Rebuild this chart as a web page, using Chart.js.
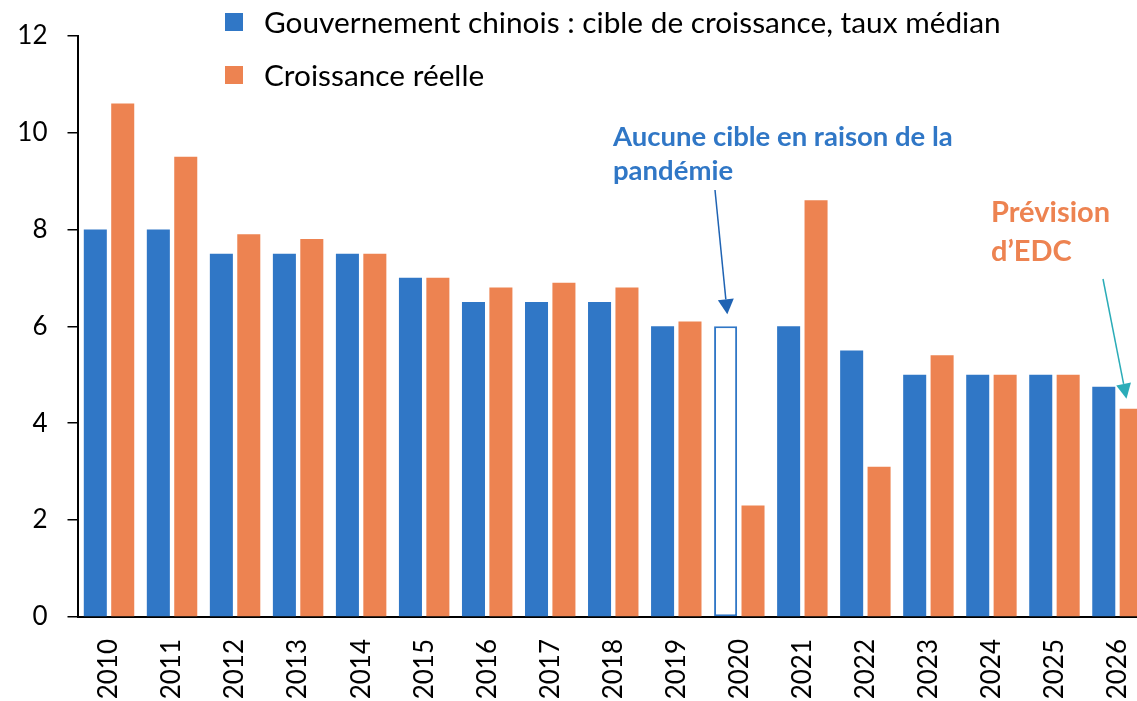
<!DOCTYPE html>
<html lang="fr">
<head>
<meta charset="utf-8">
<title>Chine : cible de croissance et croissance réelle</title>
<script src="https://cdn.jsdelivr.net/npm/chart.js@4/dist/chart.umd.min.js"></script>
<style>
    html, body { margin: 0; padding: 0; background: #fff; overflow: hidden; }
    #growthChart { display: block; }
</style>
</head>
<body>
<!-- the source plot runs a little past the right edge of the picture -->
<canvas id="growthChart" width="1149" height="701"></canvas>
<script>
// Data
const years = ['2010', '2011', '2012', '2013', '2014', '2015', '2016', '2017', '2018',
               '2019', '2020', '2021', '2022', '2023', '2024', '2025', '2026'];
const targetGrowth = [8, 8, 7.5, 7.5, 7.5, 7, 6.5, 6.5, 6.5, 6, 6, 6, 5.5, 5, 5, 5, 4.75];
const actualGrowth = [10.6, 9.5, 7.9, 7.8, 7.5, 7.0, 6.8, 6.9, 6.8, 6.1, 2.3, 8.6, 3.1, 5.4, 5.0, 5.0, 4.3];
const yTicks = [0, 2, 4, 6, 8, 10, 12];
const seriesNames = ['Gouvernement chinois : cible de croissance, taux médian', 'Croissance réelle'];
const noTargetYear = '2020';

const BLUE = '#3077C6';
const ORANGE = '#ED8351';
const FONT = 'Lato, "Open Sans", sans-serif';

window.addEventListener('DOMContentLoaded', () => {
    const noTargetIdx = years.indexOf(noTargetYear);

    // legend drawn by hand at the top, inside the plot
    const legendPlugin = {
        id: 'topLegend',
        afterDraw(chart) {
            const ctx = chart.ctx;
            const colors = [BLUE, ORANGE];
            ctx.save();
            ctx.font = '29.8px ' + FONT;
            ctx.textBaseline = 'middle';
            ctx.textAlign = 'left';
            seriesNames.forEach((name, i) => {
                const cy = 22 + i * 53;
                ctx.fillStyle = colors[i];
                ctx.fillRect(225, cy - 9, 18, 18);
                ctx.fillStyle = '#000';
                ctx.fillText(name, 264, cy + 1);
            });
            ctx.restore();
        }
    };

    function arrow(ctx, x1, y1, x2, y2, color, head, width) {
        const ang = Math.atan2(y2 - y1, x2 - x1);
        ctx.save();
        ctx.strokeStyle = color;
        ctx.fillStyle = color;
        ctx.lineWidth = 1.5;
        ctx.beginPath();
        ctx.moveTo(x1, y1);
        ctx.lineTo(x2 - Math.cos(ang) * head, y2 - Math.sin(ang) * head);
        ctx.stroke();
        ctx.beginPath();
        ctx.moveTo(x2, y2);
        ctx.lineTo(x2 - Math.cos(ang) * head + Math.sin(ang) * width / 2,
                   y2 - Math.sin(ang) * head - Math.cos(ang) * width / 2);
        ctx.lineTo(x2 - Math.cos(ang) * head - Math.sin(ang) * width / 2,
                   y2 - Math.sin(ang) * head + Math.cos(ang) * width / 2);
        ctx.closePath();
        ctx.fill();
        ctx.restore();
    }

    const notesPlugin = {
        id: 'notes',
        afterDatasetsDraw(chart) {
            const ctx = chart.ctx;
            const x = chart.scales.x, y = chart.scales.y;
            ctx.save();
            ctx.textBaseline = 'middle';
            ctx.textAlign = 'left';

            // no target in 2020
            const bx = x.getPixelForValue(noTargetIdx) - 12;
            ctx.font = 'bold 27.5px ' + FONT;
            ctx.fillStyle = '#3077C6';
            ctx.fillText('Aucune cible en raison de la', 613, 137);
            ctx.fillText('pandémie', 613, 171);
            arrow(ctx, 715, 190, bx, y.getPixelForValue(targetGrowth[noTargetIdx]) - 12, '#1F63B3', 15, 16);

            // forecast 2026
            const last = years.length - 1;
            const ox = x.getPixelForValue(last) + 11;
            ctx.font = 'bold 29px ' + FONT;
            ctx.fillStyle = '#ED8351';
            ctx.fillText('Prévision', 991, 213);
            ctx.fillText('d\u2019EDC', 991, 252);
            arrow(ctx, 1103, 279, ox - 2, y.getPixelForValue(actualGrowth[last]) - 10, '#2BACB8', 15, 15);
            ctx.restore();
        }
    };

    const ctx = document.getElementById('growthChart').getContext('2d');
    new Chart(ctx, {
        type: 'bar',
        data: {
            labels: years,
            datasets: [
                {
                    label: seriesNames[0],
                    data: targetGrowth,
                    backgroundColor: years.map((yr, i) => i === noTargetIdx ? '#ffffff' : BLUE),
                    borderColor: BLUE,
                    borderWidth: years.map((yr, i) => i === noTargetIdx ? 2 : 0),
                    borderSkipped: false,
                    categoryPercentage: 0.87,
                    barPercentage: 0.84
                },
                {
                    label: seriesNames[1],
                    data: actualGrowth,
                    backgroundColor: ORANGE,
                    borderWidth: 0,
                    categoryPercentage: 0.87,
                    barPercentage: 0.84
                }
            ]
        },
        options: {
            responsive: false,
            animation: false,
            layout: { autoPadding: false, padding: { top: 33, left: 0, right: 0, bottom: 0 } },
            plugins: {
                legend: { display: false },
                tooltip: { enabled: false }
            },
            scales: {
                x: {
                    grid: { display: true, drawOnChartArea: false, drawTicks: false },
                    border: { display: true, color: '#000', width: 2 },
                    ticks: {
                        color: '#000',
                        font: { family: FONT, size: 26 },
                        minRotation: 90, maxRotation: 90,
                        autoSkip: false,
                        padding: 22
                    },
                    afterFit: (scale) => {
                        scale.height = 84;
                        scale.paddingLeft = 0;
                        scale.paddingRight = 0;
                    }
                },
                y: {
                    min: 0, max: 12,
                    afterBuildTicks: (scale) => { scale.ticks = yTicks.map(v => ({ value: v })); },
                    grid: { display: true, drawOnChartArea: false, drawTicks: true, tickLength: 10, color: '#000', lineWidth: 1.5 },
                    border: { display: true, color: '#000', width: 2 },
                    ticks: {
                        color: '#000',
                        font: { family: FONT, size: 26 },
                        padding: 20
                    },
                    afterFit: (scale) => { scale.width = 77.5; }
                }
            }
        },
        plugins: [legendPlugin, notesPlugin]
    });
});
</script>
</body>
</html>
